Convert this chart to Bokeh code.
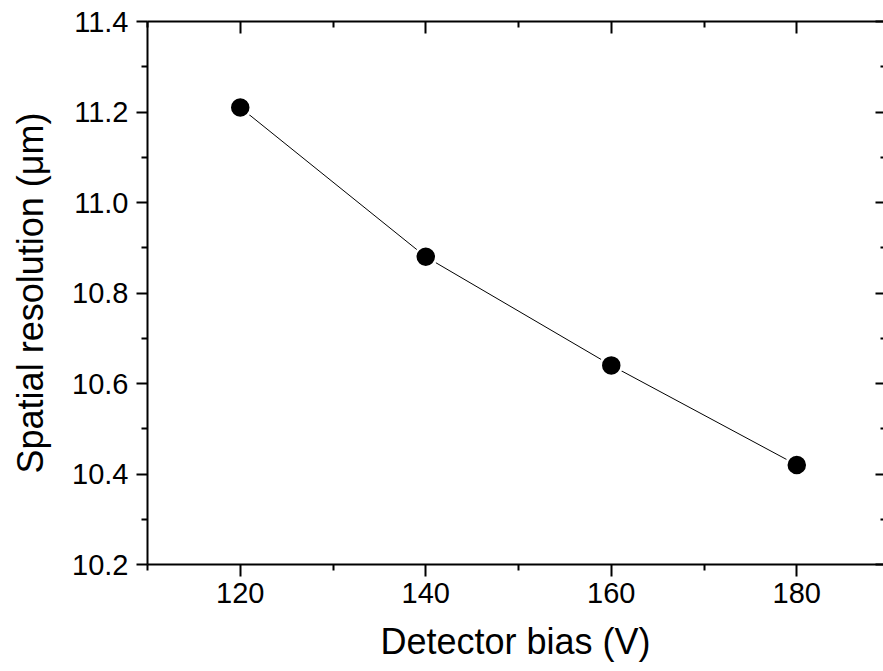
from bokeh.plotting import figure
from bokeh.models import Range1d, LinearAxis, FixedTicker, CustomJSTickFormatter, NumeralTickFormatter
from bokeh.embed import file_html
from bokeh.resources import INLINE

# Data
bias_v = [120, 140, 160, 180]
resolution_um = [11.21, 10.88, 10.64, 10.42]

x_major = [120, 140, 160, 180]
x_minor = [110, 130, 150, 170, 190]
y_major = [10.2, 10.4, 10.6, 10.8, 11.0, 11.2, 11.4]
y_minor = [10.3, 10.5, 10.7, 10.9, 11.1, 11.3]

FONT = "Liberation Sans"

p = figure(width=883, height=668, output_backend="svg", toolbar_location=None,
           x_range=Range1d(110, 189.35), y_range=Range1d(10.2, 11.4),
           min_border_left=147, min_border_top=21, min_border_right=0, min_border_bottom=104)
p.grid.visible = False
p.outline_line_color = None
p.background_fill_color = "white"
p.border_fill_color = "white"

xt = FixedTicker(ticks=x_major, minor_ticks=x_minor)
yt = FixedTicker(ticks=y_major, minor_ticks=y_minor)

def style(ax, tin, tout, mtin, mtout):
    ax.axis_line_width = 2
    ax.axis_line_color = "black"
    ax.major_tick_line_width = 2
    ax.minor_tick_line_width = 2
    ax.major_tick_line_color = "black"
    ax.minor_tick_line_color = "black"
    ax.major_tick_in = tin
    ax.major_tick_out = tout
    ax.minor_tick_in = mtin
    ax.minor_tick_out = mtout

xa = p.xaxis[0]
xa.ticker = xt
style(xa, 0, 12, 0, 6)
xa.major_label_text_font = FONT
xa.major_label_text_font_size = "29px"
xa.major_label_text_color = "black"
xa.major_label_standoff = 6
xa.axis_label = "Detector bias (V)"
xa.axis_label_text_font = FONT
xa.axis_label_text_font_size = "36px"
xa.axis_label_text_font_style = "normal"
xa.axis_label_text_color = "black"
xa.axis_label_standoff = 15

ya = p.yaxis[0]
ya.ticker = yt
ya.formatter = NumeralTickFormatter(format="0.0")
style(ya, 0, 11, 0, 6)
ya.major_label_text_font = FONT
ya.major_label_text_font_size = "29px"
ya.major_label_text_color = "black"
ya.major_label_standoff = 8
ya.axis_label = "Spatial resolution (\u03bcm)"
ya.axis_label_text_font = FONT
ya.axis_label_text_font_size = "36px"
ya.axis_label_text_font_style = "normal"
ya.axis_label_text_color = "black"
ya.axis_label_standoff = 18

blank = CustomJSTickFormatter(code="return ''")

top = LinearAxis(ticker=xt, formatter=blank)
style(top, 12, 0, 6, 0)
top.major_label_standoff = 0
p.add_layout(top, "above")

right = LinearAxis(ticker=yt, formatter=blank)
style(right, 8, 0, 3, 0)
right.axis_line_color = None
right.major_label_standoff = 0
p.add_layout(right, "right")

p.line(bias_v, resolution_um, line_color="black", line_width=1)
p.scatter(bias_v, resolution_um, size=21, fill_color="black",
          line_color="white", line_width=2.5)

open("out.html", "w").write(file_html(p, INLINE))
